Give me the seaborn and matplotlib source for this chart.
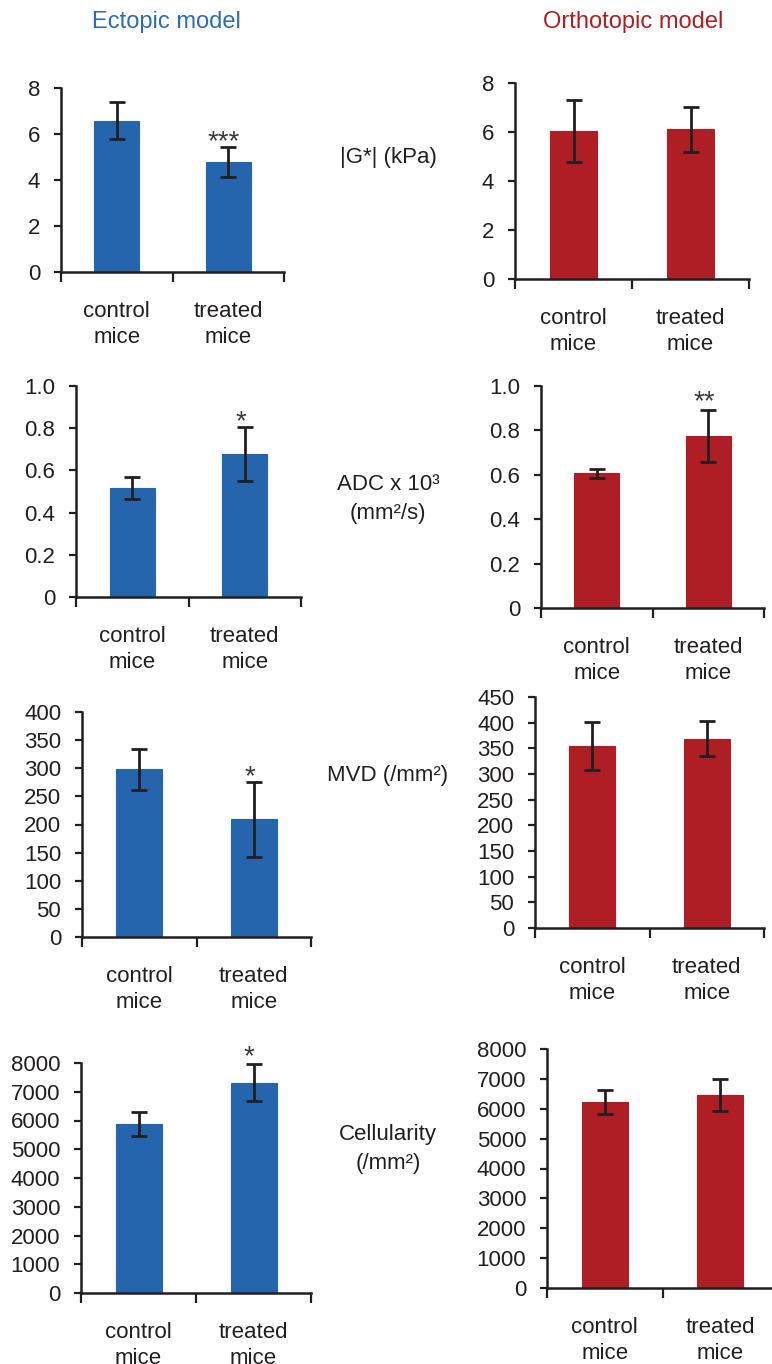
import matplotlib
matplotlib.use("Agg")
import matplotlib.pyplot as plt
import seaborn as sns
import pandas as pd
import numpy as np

sns.set_theme(style="white")
plt.rcParams['font.family'] = ['Liberation Sans', 'DejaVu Sans']

categories = ["control\nmice", "treated\nmice"]

# Ectopic model (means, SEM-like errors)
ect_g = [6.57, 4.77]
ect_g_err = [0.80, 0.66]
ect_adc = [0.517, 0.677]
ect_adc_err = [0.052, 0.128]
ect_mvd = [298, 209]
ect_mvd_err = [37, 67]
ect_cell = [5890, 7320]
ect_cell_err = [420, 650]

# Orthotopic model
ort_g = [6.04, 6.11]
ort_g_err = [1.26, 0.93]
ort_adc = [0.606, 0.774]
ort_adc_err = [0.020, 0.117]
ort_mvd = [355, 369]
ort_mvd_err = [47, 34]
ort_cell = [6222, 6460]
ort_cell_err = [400, 530]

ect_stars = ["***", "*", "*", "*"]
ort_stars = ["", "**", "", ""]

row_labels = ["|G*| (kPa)", "ADC x 10³\n(mm²/s)", "MVD (/mm²)", "Cellularity\n(/mm²)"]

BLUE = "#2565AE"
RED = "#AF1E24"
DARK = "#231F20"

W, H = 772, 1364
fig = plt.figure(figsize=(W / 100, H / 100), dpi=100)

def add_ax(x0, x1, ytop, ybot):
    return fig.add_axes([x0 / W, 1 - ybot / H, (x1 - x0) / W, (ybot - ytop) / H])

# pixel boxes: (left, right, top(ymax), bottom(y=0))
boxes_left = [(61, 284, 88, 272), (76, 301, 386, 597), (82, 311, 712, 937), (81, 311, 1063, 1293)]
boxes_right = [(515, 749, 83, 279), (541, 764, 386, 608), (535, 764, 697, 928), (547, 778, 1049, 1288)]
# vertical offsets (points) of significance marks above the error caps
star_off_left = [-1.5, -1.5, -1.5, -0.5]
star_off_right = [0, 0.5, 0, 0]

ylims = [(0, 8), (0, 1.0), None, (0, 8000)]
yticks_list = [
    [0, 2, 4, 6, 8],
    [0, 0.2, 0.4, 0.6, 0.8, 1.0],
    None,
    list(range(0, 8001, 1000)),
]
ytl_list = [
    ["0", "2", "4", "6", "8"],
    ["0", "0.2", "0.4", "0.6", "0.8", "1.0"],
    None,
    [str(v) for v in range(0, 8001, 1000)],
]

ect_vals = [(ect_g, ect_g_err), (ect_adc, ect_adc_err), (ect_mvd, ect_mvd_err), (ect_cell, ect_cell_err)]
ort_vals = [(ort_g, ort_g_err), (ort_adc, ort_adc_err), (ort_mvd, ort_mvd_err), (ort_cell, ort_cell_err)]

def draw_panel(box, vals, errs, color, ylim, yticks, ytl, star, soff):
    ax = add_ax(*box)
    df = pd.DataFrame({"group": categories, "value": vals})
    sns.barplot(data=df, x="group", y="value", ax=ax, color=color, width=0.4,
                saturation=1, edgecolor=color, linewidth=0.8, errorbar=None)
    ax.errorbar(x=[0, 1], y=vals, yerr=errs, fmt="none", ecolor=DARK,
                elinewidth=2.0, capsize=5.5, capthick=2.0, zorder=5)
    ax.set_xlim(-0.5, 1.5)
    ax.set_ylim(*ylim)
    ax.set_yticks(yticks)
    ax.set_yticklabels(ytl)
    ax.set_xlabel("")
    ax.set_ylabel("")
    ax.set_facecolor("none")
    for s in ["top", "right"]:
        ax.spines[s].set_visible(False)
    for s in ["left", "bottom"]:
        ax.spines[s].set_color(DARK)
        ax.spines[s].set_linewidth(1.8)
    ax.tick_params(axis="y", which="major", direction="out", length=5, width=1.6,
                   color=DARK, labelsize=16, labelcolor=DARK, pad=10, left=True)
    ax.set_xticks([0, 1])
    ax.set_xticklabels(categories, linespacing=1.3)
    ax.set_xticks([-0.5, 0.5, 1.5], minor=True)
    ax.tick_params(axis="x", which="major", length=0, labelsize=16, labelcolor=DARK, pad=21)
    ax.tick_params(axis="x", which="minor", direction="out", length=7, width=1.6,
                   color=DARK, bottom=True)
    if star:
        top = vals[1] + errs[1]
        ax.annotate(star, xy=(1, top), xytext=(-3, soff), textcoords="offset points",
                    ha="center", va="baseline", fontsize=20, color="#3a3a3a",
                    annotation_clip=False)
    ax.grid(False)
    return ax

for i in range(4):
    if i == 2:
        yl_l, yt_l, ytl_l = (0, 400), list(range(0, 401, 50)), [str(v) for v in range(0, 401, 50)]
        yl_r, yt_r, ytl_r = (0, 450), list(range(0, 451, 50)), [str(v) for v in range(0, 451, 50)]
    else:
        yl_l = yl_r = ylims[i]
        yt_l = yt_r = yticks_list[i]
        ytl_l = ytl_r = ytl_list[i]
    draw_panel(boxes_left[i], ect_vals[i][0], ect_vals[i][1], BLUE, yl_l, yt_l, ytl_l,
               ect_stars[i], star_off_left[i])
    draw_panel(boxes_right[i], ort_vals[i][0], ort_vals[i][1], RED, yl_r, yt_r, ytl_r,
               ort_stars[i], star_off_right[i])

# column titles
fig.text(166 / W, 1 - 22 / H, "Ectopic model", ha="center", va="center",
         fontsize=17, color="#2C6DB5")
fig.text(633 / W, 1 - 22 / H, "Orthotopic model", ha="center", va="center",
         fontsize=17, color="#B01E23")

# row labels
row_y = [157, 499, 775, 1149]
for lab, yy in zip(row_labels, row_y):
    fig.text(388 / W, 1 - yy / H, lab, ha="center", va="center", fontsize=16,
             color=DARK, linespacing=1.45)

fig.savefig("out.png", dpi=100)
